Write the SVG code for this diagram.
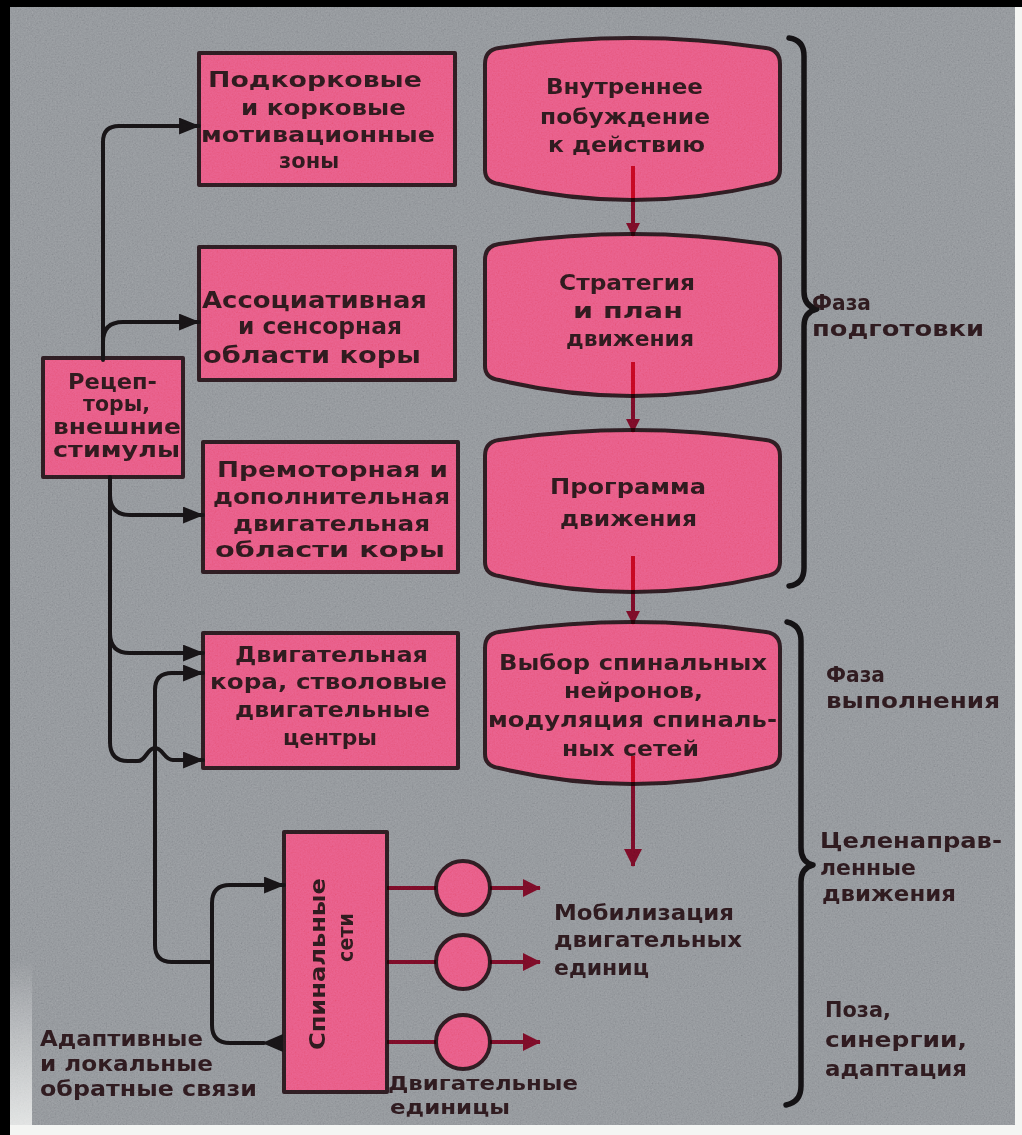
<svg xmlns="http://www.w3.org/2000/svg" width="1022" height="1135" viewBox="0 0 1022 1135">
  <defs>
    <style>
      .box{fill:#e6547a;stroke:#2a1a1f;stroke-width:4;stroke-linejoin:round}
      .t{font-family:"DejaVu Sans","Noto Sans",sans-serif;font-weight:bold;fill:#2a181c}
      .s20{font-size:20px}
      .s21{font-size:21px}
      .s22{font-size:22px}
      .s23{font-size:23px}
      .wire{fill:none;stroke:#151214;stroke-width:4;stroke-linecap:round;stroke-linejoin:round}
      .red{fill:none;stroke:#d4143f;stroke-width:4}
      .brace{fill:none;stroke:#121012;stroke-width:5.5;stroke-linecap:round;stroke-linejoin:round}
    </style>
    <marker id="ah" viewBox="0 0 20 16" refX="19" refY="8" markerWidth="21" markerHeight="17" markerUnits="userSpaceOnUse" orient="auto">
      <path d="M0,0 L20,8 L0,16 Z" fill="#151214"/>
    </marker>
    <marker id="rh" viewBox="0 0 14 14" refX="13" refY="7" markerWidth="14" markerHeight="14" markerUnits="userSpaceOnUse" orient="auto">
      <path d="M0,0 L14,7 L0,14 Z" fill="#d4143f"/>
    </marker>
    <marker id="rhl" viewBox="0 0 18 18" refX="17" refY="9" markerWidth="18" markerHeight="18" markerUnits="userSpaceOnUse" orient="auto">
      <path d="M0,0 L18,9 L0,18 Z" fill="#d4143f"/>
    </marker>
    <!-- barrel-shaped stage block, top centre at y=0 -->
    <path id="barrel" class="box" d="M485,26 Q485,12 499,10 Q632,-10 766,10 Q780,12 780,26 L780,132 Q780,144 766,146 Q632,178 499,146 Q485,144 485,132 Z"/>
    <filter id="grain" x="0" y="0" width="1" height="1">
      <feTurbulence type="fractalNoise" baseFrequency="0.65" numOctaves="3" seed="7"/>
      <feColorMatrix type="matrix" values="0.33 0.33 0.33 0 0  0.33 0.33 0.33 0 0  0.33 0.33 0.33 0 0  0 0 0 0 1"/>
    </filter>
    <linearGradient id="fadeL" x1="0" y1="0" x2="0" y2="1">
      <stop offset="0" stop-color="#ffffff" stop-opacity="0"/>
      <stop offset="1" stop-color="#f2f4f2" stop-opacity="0.8"/>
    </linearGradient>
  </defs>

  <!-- page -->
  <rect x="0" y="0" width="1022" height="1135" fill="#f4f5f3"/>
  <rect x="10" y="7" width="1005" height="1118" fill="#878b90"/>
  <rect x="10" y="960" width="22" height="165" fill="url(#fadeL)"/>
  <rect x="0" y="0" width="1022" height="7" fill="#000"/>
  <rect x="0" y="0" width="10" height="1135" fill="#000"/>

  <!-- left column -->
  <g id="motivation-zones">
    <rect class="box" x="199" y="53" width="256" height="132"/>
    <text class="t s21"><tspan x="208" y="87" textLength="214" lengthAdjust="spacingAndGlyphs">Подкорковые</tspan><tspan x="241" y="115" textLength="165" lengthAdjust="spacingAndGlyphs">и корковые</tspan><tspan x="201" y="142" textLength="234" lengthAdjust="spacingAndGlyphs">мотивационные</tspan><tspan x="279" y="168">зоны</tspan></text>
  </g>
  <g id="associative-cortex">
    <rect class="box" x="199" y="247" width="256" height="133"/>
    <text class="t s23"><tspan x="202" y="308" textLength="225" lengthAdjust="spacingAndGlyphs">Ассоциативная</tspan><tspan x="238" y="334" textLength="164" lengthAdjust="spacingAndGlyphs">и сенсорная</tspan><tspan x="203" y="363" textLength="218" lengthAdjust="spacingAndGlyphs">области коры</tspan></text>
  </g>
  <g id="receptors">
    <rect class="box" x="43" y="358" width="140" height="119"/>
    <text class="t s21"><tspan x="68" y="389" textLength="89" lengthAdjust="spacingAndGlyphs">Рецеп-</tspan><tspan x="83" y="411" textLength="67" lengthAdjust="spacingAndGlyphs">торы,</tspan><tspan x="53" y="434" textLength="128" lengthAdjust="spacingAndGlyphs">внешние</tspan><tspan x="53" y="457" textLength="127" lengthAdjust="spacingAndGlyphs">стимулы</tspan></text>
  </g>
  <g id="premotor-cortex">
    <rect class="box" x="203" y="442" width="255" height="130"/>
    <text class="t s22"><tspan x="217" y="477" textLength="231" lengthAdjust="spacingAndGlyphs">Премоторная и</tspan><tspan x="213" y="504" textLength="237" lengthAdjust="spacingAndGlyphs">дополнительная</tspan><tspan x="233" y="531" textLength="197" lengthAdjust="spacingAndGlyphs">двигательная</tspan><tspan x="215" y="557" textLength="230" lengthAdjust="spacingAndGlyphs">области коры</tspan></text>
  </g>
  <g id="motor-cortex">
    <rect class="box" x="203" y="633" width="255" height="135"/>
    <text class="t s22"><tspan x="235" y="662" textLength="193" lengthAdjust="spacingAndGlyphs">Двигательная</tspan><tspan x="210" y="689" textLength="237" lengthAdjust="spacingAndGlyphs">кора, стволовые</tspan><tspan x="235" y="717" textLength="195" lengthAdjust="spacingAndGlyphs">двигательные</tspan><tspan x="283" y="745" textLength="94" lengthAdjust="spacingAndGlyphs">центры</tspan></text>
  </g>
  <g id="spinal-networks">
    <rect class="box" x="284" y="832" width="103" height="260"/>
    <text class="t s22" transform="translate(325,1050) rotate(-90)" textLength="172" lengthAdjust="spacingAndGlyphs">Спинальные</text>
    <text class="t s22" transform="translate(353,962) rotate(-90)" textLength="49" lengthAdjust="spacingAndGlyphs">сети</text>
  </g>
  <g id="motor-units">
    <circle class="box" cx="463" cy="888" r="27"/>
    <circle class="box" cx="463" cy="962" r="27"/>
    <circle class="box" cx="463" cy="1042" r="27"/>
  </g>

  <!-- right column: stages -->
  <g id="inner-drive">
    <use href="#barrel" y="38"/>
    <text class="t s22"><tspan x="546" y="94" textLength="157" lengthAdjust="spacingAndGlyphs">Внутреннее</tspan><tspan x="540" y="124" textLength="170" lengthAdjust="spacingAndGlyphs">побуждение</tspan><tspan x="548" y="152" textLength="157" lengthAdjust="spacingAndGlyphs">к действию</tspan></text>
  </g>
  <g id="strategy">
    <use href="#barrel" y="234"/>
    <text class="t s22"><tspan x="559" y="290" textLength="136" lengthAdjust="spacingAndGlyphs">Стратегия</tspan><tspan x="573" y="318" textLength="110" lengthAdjust="spacingAndGlyphs">и план</tspan><tspan x="566" y="346" textLength="128" lengthAdjust="spacingAndGlyphs">движения</tspan></text>
  </g>
  <g id="program">
    <use href="#barrel" y="430"/>
    <text class="t s22"><tspan x="550" y="494" textLength="156" lengthAdjust="spacingAndGlyphs">Программа</tspan><tspan x="560" y="526" textLength="137" lengthAdjust="spacingAndGlyphs">движения</tspan></text>
  </g>
  <g id="spinal-selection">
    <use href="#barrel" y="622"/>
    <text class="t s22"><tspan x="499" y="670" textLength="268" lengthAdjust="spacingAndGlyphs">Выбор спинальных</tspan><tspan x="564" y="698" textLength="139" lengthAdjust="spacingAndGlyphs">нейронов,</tspan><tspan x="488" y="727" textLength="289" lengthAdjust="spacingAndGlyphs">модуляция спиналь-</tspan><tspan x="562" y="756" textLength="137" lengthAdjust="spacingAndGlyphs">ных сетей</tspan></text>
  </g>

  <!-- connectors -->
  <g id="connectors">
    <path class="wire" d="M103,360 V142 Q103,126 119,126 H199" marker-end="url(#ah)"/>
    <path class="wire" d="M103,342 Q103,322 123,322 H199" marker-end="url(#ah)"/>
    <path class="wire" d="M110,477 V742 Q110,761 128,761 H138 C146,761 147,748 155,748 C163,748 164,760 173,760 H203" marker-end="url(#ah)"/>
    <path class="wire" d="M110,495 Q110,515 130,515 H203" marker-end="url(#ah)"/>
    <path class="wire" d="M110,633 Q110,653 130,653 H203" marker-end="url(#ah)"/>
    <path class="wire" d="M212,962 H172 Q155,962 155,945 V690 Q155,673 172,673 H203" marker-end="url(#ah)"/>
    <path class="wire" d="M264,1043 H230 Q212,1043 212,1025 V903 Q212,885 230,885 H284" marker-end="url(#ah)"/>
    <path d="M262,1043 L283,1034 L283,1052 Z" fill="#151214"/>
    <g style="mix-blend-mode:multiply">
      <path class="red" d="M633,166 V236" marker-end="url(#rh)"/>
      <path class="red" d="M633,362 V432" marker-end="url(#rh)"/>
      <path class="red" d="M633,556 V624" marker-end="url(#rh)"/>
      <path class="red" d="M633,756 V866" marker-end="url(#rhl)"/>
      <path class="red" d="M387,888 H436 M387,962 H436 M387,1042 H436"/>
      <path class="red" d="M490,888 H540" marker-end="url(#rhl)"/>
      <path class="red" d="M490,962 H540" marker-end="url(#rhl)"/>
      <path class="red" d="M490,1042 H540" marker-end="url(#rhl)"/>
    </g>
  </g>

  <!-- phase braces -->
  <g id="phase-braces">
    <path class="brace" d="M789,38 Q804,40 804,56 L804,292 Q804,306 817,309 Q804,312 804,326 L804,568 Q804,584 789,586"/>
    <path class="brace" d="M787,622 Q801,625 801,641 L801,848 Q801,862 813,865 Q801,868 801,882 L801,1086 Q801,1102 786,1105"/>
  </g>

  <!-- free labels -->
  <g id="labels">
    <text class="t s22"><tspan x="812" y="310" textLength="59" lengthAdjust="spacingAndGlyphs">Фаза</tspan><tspan x="812" y="336" textLength="172" lengthAdjust="spacingAndGlyphs">подготовки</tspan></text>
    <text class="t s22"><tspan x="826" y="682" textLength="59" lengthAdjust="spacingAndGlyphs">Фаза</tspan><tspan x="826" y="708" textLength="174" lengthAdjust="spacingAndGlyphs">выполнения</tspan></text>
    <text class="t s22"><tspan x="820" y="848" textLength="182" lengthAdjust="spacingAndGlyphs">Целенаправ-</tspan><tspan x="820" y="875" textLength="96" lengthAdjust="spacingAndGlyphs">ленные</tspan><tspan x="822" y="901" textLength="134" lengthAdjust="spacingAndGlyphs">движения</tspan></text>
    <text class="t s22"><tspan x="825" y="1017" textLength="66" lengthAdjust="spacingAndGlyphs">Поза,</tspan><tspan x="825" y="1047" textLength="142" lengthAdjust="spacingAndGlyphs">синергии,</tspan><tspan x="825" y="1076" textLength="142" lengthAdjust="spacingAndGlyphs">адаптация</tspan></text>
    <text class="t s22"><tspan x="554" y="920" textLength="180" lengthAdjust="spacingAndGlyphs">Мобилизация</tspan><tspan x="554" y="947" textLength="188" lengthAdjust="spacingAndGlyphs">двигательных</tspan><tspan x="554" y="975" textLength="95" lengthAdjust="spacingAndGlyphs">единиц</tspan></text>
    <text class="t s22"><tspan x="40" y="1046" textLength="163" lengthAdjust="spacingAndGlyphs">Адаптивные</tspan><tspan x="40" y="1071" textLength="173" lengthAdjust="spacingAndGlyphs">и локальные</tspan><tspan x="40" y="1096" textLength="217" lengthAdjust="spacingAndGlyphs">обратные связи</tspan></text>
    <text class="t s20"><tspan x="388" y="1090" textLength="190" lengthAdjust="spacingAndGlyphs">Двигательные</tspan><tspan x="390" y="1114" textLength="120" lengthAdjust="spacingAndGlyphs">единицы</tspan></text>
  </g>

  <!-- print grain -->
  <rect x="10" y="7" width="1005" height="1118" filter="url(#grain)" opacity="0.3" style="mix-blend-mode:overlay"/>
</svg>
